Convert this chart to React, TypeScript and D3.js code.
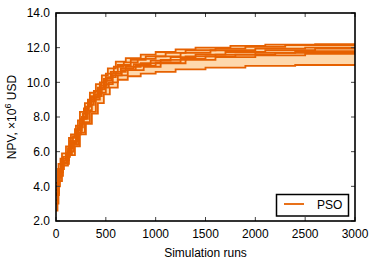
import React from "react";
import * as d3 from "d3";

// Each run: stepped best-so-far NPV (x = simulation runs, y = NPV in 1e6 USD)
const runA: [number, number][] = [[0,3.8],[20,4.9],[45,5.6],[100,6.3],[150,7.0],[200,7.5],[240,8.3],[290,8.8],[340,9.4],[400,9.9],[460,10.4],[520,10.8],[600,11.2],[700,11.4],[850,11.6],[1000,11.75],[1200,11.9],[1400,12.0],[1750,12.1],[2100,12.18],[2600,12.2]];
const runB: [number, number][] = [[0,2.6],[15,4.0],[40,5.0],[80,5.5],[130,6.8],[190,7.3],[240,7.9],[300,8.6],[350,9.2],[420,9.7],[480,10.2],[550,10.6],[620,11.0],[750,11.3],[900,11.5],[1100,11.7],[1300,11.85],[1600,11.95],[1900,12.05],[2300,12.15]];
const runC: [number, number][] = [[0,4.2],[25,5.3],[60,5.9],[120,6.2],[170,6.9],[220,7.8],[270,8.2],[320,9.0],[380,9.5],[440,10.0],[500,10.5],[580,10.9],[680,11.15],[820,11.35],[1000,11.5],[1250,11.7],[1550,11.85],[2000,11.95],[2500,12.0]];
const runD: [number, number][] = [[0,3.2],[20,4.5],[50,5.4],[110,5.8],[160,6.5],[210,7.2],[260,8.0],[310,8.4],[360,9.1],[430,9.6],[490,10.1],[560,10.5],[650,10.8],[780,11.05],[950,11.25],[1150,11.45],[1400,11.6],[1700,11.75],[2100,11.85],[2600,11.95]];
const runE: [number, number][] = [[0,3.5],[30,4.8],[70,5.7],[140,6.6],[200,7.0],[250,7.6],[280,8.5],[330,8.9],[390,9.3],[450,9.8],[510,10.3],[600,10.6],[700,10.9],[850,11.1],[1050,11.3],[1300,11.5],[1600,11.6],[2000,11.7],[2400,11.8]];
const runF: [number, number][] = [[0,4.0],[20,5.0],[55,5.5],[100,5.9],[150,6.6],[220,7.4],[270,7.9],[320,8.7],[380,9.0],[440,9.4],[500,9.9],[570,10.4],[660,10.7],[800,10.95],[1000,11.15],[1250,11.35],[1500,11.5],[1800,11.6],[2200,11.7],[2700,11.75]];
const runG: [number, number][] = [[0,3.0],[25,4.3],[60,5.2],[120,6.0],[180,6.4],[230,7.1],[290,7.7],[340,8.3],[400,9.2],[460,9.7],[530,10.0],[620,10.4],[720,10.7],[880,10.9],[1050,11.1],[1300,11.3],[1600,11.45],[2000,11.55],[2500,11.65]];
const runH: [number, number][] = [[0,3.6],[30,4.6],[70,5.3],[130,5.8],[190,6.3],[240,7.0],[300,7.6],[360,8.2],[420,8.8],[480,9.3],[540,9.7],[620,10.15],[720,10.35],[850,10.5],[1000,10.6],[1200,10.75],[1500,10.85],[1900,10.95],[2400,11.0]];

const runs = [runA, runB, runC, runD, runE, runF, runG, runH];
const xTicks = [0, 500, 1000, 1500, 2000, 2500, 3000];
const yTicks = [2, 4, 6, 8, 10, 12, 14];
const xMax = 3000;

const W = 374, H = 262;
const L = 56, R = 355, T = 13, B = 221;
const LINE = "#e66101";
const FILL = "#fed8ac";
const FONT = "'Liberation Sans', Arial, Helvetica, sans-serif";

export default function App() {
  const x = d3.scaleLinear().domain([0, xMax]).range([L, R]);
  const y = d3.scaleLinear().domain([2, 14]).range([B, T]);

  const extended = runs.map((r) => [...r, [xMax, r[r.length - 1][1]] as [number, number]]);
  const valAt = (r: [number, number][], xq: number) => {
    let v = r[0][1];
    for (const p of r) if (p[0] <= xq) v = p[1];
    return v;
  };
  const xs = Array.from(new Set(extended.flatMap((r) => r.map((p) => p[0])))).sort((a, b) => a - b);
  const env = xs.map((xq) => {
    const vals = extended.map((r) => valAt(r, xq));
    return { x: xq, lo: d3.min(vals)!, hi: d3.max(vals)! };
  });

  const line = d3.line<[number, number]>().x((d) => x(d[0])).y((d) => y(d[1])).curve(d3.curveStepAfter);
  const area = d3
    .area<{ x: number; lo: number; hi: number }>()
    .x((d) => x(d.x))
    .y0((d) => y(d.lo))
    .y1((d) => y(d.hi))
    .curve(d3.curveStepAfter);

  const tickLen = 4;
  return (
    <svg width={W} height={H} style={{ position: "absolute", left: 0, top: 0, background: "#fff" }} fontFamily={FONT}>
      <defs>
        <clipPath id="plot">
          <rect x={L} y={T} width={R - L} height={B - T} />
        </clipPath>
      </defs>
      <g clipPath="url(#plot)">
        <path d={area(env) || ""} fill={FILL} stroke="none" />
        {extended.map((r, i) => (
          <path key={i} d={line(r) || ""} fill="none" stroke={LINE} strokeWidth={1.8} />
        ))}
      </g>
      {xTicks.map((t) => (
        <g key={"x" + t}>
          <line x1={x(t)} x2={x(t)} y1={B} y2={B - tickLen} stroke="#444" strokeWidth={1} />
          <line x1={x(t)} x2={x(t)} y1={T} y2={T + tickLen} stroke="#444" strokeWidth={1} />
          <text x={x(t)} y={238} textAnchor="middle" fontSize={12} fill="#000">
            {t}
          </text>
        </g>
      ))}
      {yTicks.map((t) => (
        <g key={"y" + t}>
          <line x1={L} x2={L + tickLen} y1={y(t)} y2={y(t)} stroke="#444" strokeWidth={1} />
          <line x1={R} x2={R - tickLen} y1={y(t)} y2={y(t)} stroke="#444" strokeWidth={1} />
          <text x={50} y={y(t)} dy="0.35em" textAnchor="end" fontSize={12} fill="#000">
            {t.toFixed(1)}
          </text>
        </g>
      ))}
      <rect x={L} y={T} width={R - L} height={B - T} fill="none" stroke="#000" strokeWidth={1.6} />
      <text x={(L + R) / 2} y={257} textAnchor="middle" fontSize={12} fill="#000">
        Simulation runs
      </text>
      <text transform={`translate(16,${(T + B) / 2}) rotate(-90)`} textAnchor="middle" fontSize={12} fill="#000">
        NPV, ×10<tspan dy={-5} fontSize={9}>6</tspan><tspan dy={5}> USD</tspan>
      </text>
      <rect x={276.5} y={194.5} width={72} height={21.5} fill="#fff" stroke="#000" strokeWidth={1.5} />
      <line x1={284} x2={304} y1={204} y2={204} stroke={LINE} strokeWidth={1.8} />
      <text x={317} y={208.5} fontSize={12} fill="#000">
        PSO
      </text>
    </svg>
  );
}
